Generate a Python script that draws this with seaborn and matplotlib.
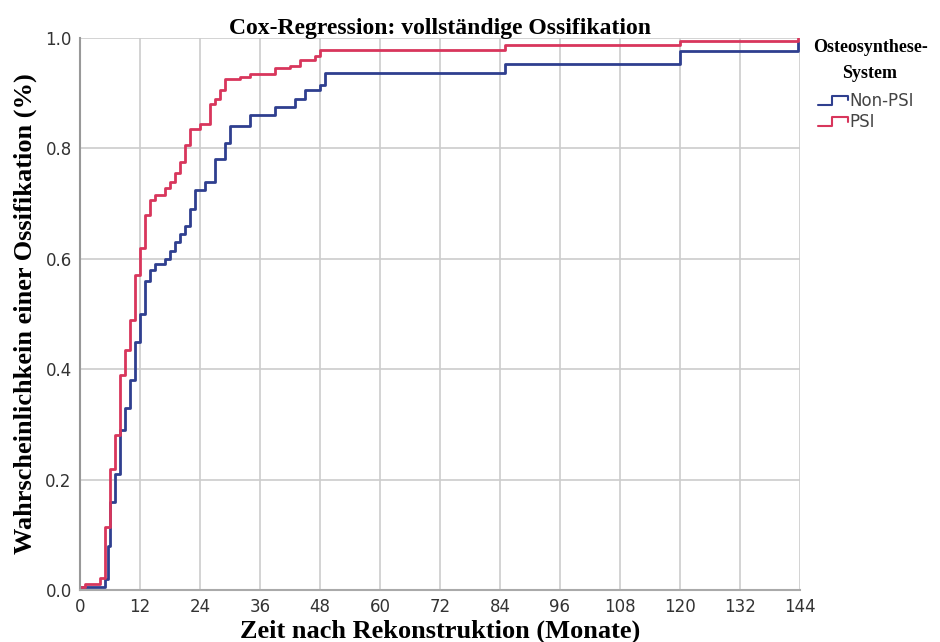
import numpy as np
import pandas as pd
import matplotlib
matplotlib.use("Agg")
import matplotlib.pyplot as plt
import seaborn as sns
from matplotlib.legend_handler import HandlerBase
from matplotlib.lines import Line2D

# ---- data ----
t_psi = [0, 1, 4, 5, 6, 7, 8, 9, 10, 11, 12, 13, 14, 15, 17, 18, 19, 20, 21, 22, 24,
         26, 27, 28, 29, 32, 34, 39, 42, 44, 47, 48, 85, 120, 143.6]
p_psi = [0.005, 0.01, 0.022, 0.114, 0.22, 0.28, 0.39, 0.435, 0.49, 0.57, 0.62, 0.68,
         0.706, 0.715, 0.728, 0.74, 0.755, 0.775, 0.806, 0.835, 0.845, 0.88, 0.89, 0.905,
         0.925, 0.93, 0.935, 0.945, 0.95, 0.96, 0.968, 0.978, 0.987, 0.995, 1.0]

t_non = [0, 5, 5.5, 6, 7, 8, 9, 10, 11, 12, 13, 14, 15, 17, 18, 19, 20, 21, 22, 23,
         25, 27, 29, 30, 34, 39, 43, 45, 48, 49, 85, 120, 143.6]
p_non = [0.005, 0.02, 0.08, 0.16, 0.21, 0.29, 0.33, 0.38, 0.45, 0.50, 0.56, 0.58, 0.59,
         0.60, 0.615, 0.63, 0.645, 0.66, 0.69, 0.725, 0.74, 0.78, 0.81, 0.84, 0.86, 0.875,
         0.89, 0.905, 0.915, 0.937, 0.953, 0.977, 0.993]

groups = ["Non-PSI", "PSI"]
colors = {"Non-PSI": "#2f3f8f", "PSI": "#d8365c"}
x_ticks = list(range(0, 145, 12))
y_ticks = [0.0, 0.2, 0.4, 0.6, 0.8, 1.0]

df = pd.concat([
    pd.DataFrame({"t": t_non, "p": p_non, "group": "Non-PSI"}),
    pd.DataFrame({"t": t_psi, "p": p_psi, "group": "PSI"}),
], ignore_index=True)

sns.set_style("white")
fig = plt.figure(figsize=(9.4, 6.42), dpi=100)
ax = fig.add_axes([80 / 940, 52 / 642, 720 / 940, 552 / 642])

sns.lineplot(data=df, x="t", y="p", hue="group", hue_order=groups, palette=colors,
             drawstyle="steps-post", estimator=None, linewidth=2.0, ax=ax, legend=False)

ax.set_xlim(0, 144)
ax.set_ylim(0, 1.0)
ax.set_xticks(x_ticks)
ax.set_yticks(y_ticks)
ax.set_yticklabels([f"{v:.1f}" for v in y_ticks])
ax.grid(True, color="#cccccc", linewidth=1.2)
ax.set_axisbelow(True)
for s in ["top", "right"]:
    ax.spines[s].set_visible(False)
ax.spines["left"].set_color("#999999")
ax.spines["bottom"].set_color("#aaaaaa")
ax.spines["left"].set_linewidth(1.5)
ax.spines["bottom"].set_linewidth(1.5)
ax.tick_params(axis="both", length=0, pad=6, labelsize=12, colors="#333333")
for lab in ax.get_xticklabels() + ax.get_yticklabels():
    lab.set_family(["Liberation Sans Narrow", "DejaVu Sans"])

serif = ["Liberation Serif", "DejaVu Serif"]
ax.set_xlabel("Zeit nach Rekonstruktion (Monate)", fontsize=19, fontweight="bold",
              family=serif, labelpad=2, color="black")
ax.set_ylabel("Wahrscheinlichkein einer Ossifikation (%)", fontsize=19, fontweight="bold",
              family=serif, labelpad=6, color="black")
ax.set_title("Cox-Regression: vollständige Ossifikation", fontsize=17, fontweight="bold",
             family=serif, pad=3, color="black")


class StepHandler(HandlerBase):
    def create_artists(self, legend, orig_handle, xdescent, ydescent, width, height,
                       fontsize, trans):
        x0, x1 = -xdescent, -xdescent + width
        y0, y1 = -ydescent + height * 0.1, -ydescent + height * 0.9
        xm = x0 + width * 0.45
        line = Line2D([x0, xm, xm, x1, x1], [y0, y0, y1, y1, y0 + height * 0.4],
                      color=orig_handle.get_color(), linewidth=1.5)
        line.set_transform(trans)
        return [line]


handles = [Line2D([], [], color=colors[g]) for g in groups]
fig.text(870 / 940, 1 - 47 / 642, "Osteosynthese-", ha="center", va="center",
         fontsize=13, fontweight="bold", family=serif, color="black")
fig.text(870 / 940, 1 - 74 / 642, "System", ha="center", va="center",
         fontsize=13, fontweight="bold", family=serif, color="black")
leg = fig.legend(handles, groups, handler_map={Line2D: StepHandler()},
                 loc="upper left", bbox_to_anchor=(818 / 940, 1 - 92 / 642),
                 frameon=False, fontsize=12, handlelength=1.8, handletextpad=0.1,
                 labelspacing=0.2, borderpad=0, borderaxespad=0)
for t in leg.get_texts():
    t.set_color("#444444")

fig.savefig("out.png", dpi=100)
